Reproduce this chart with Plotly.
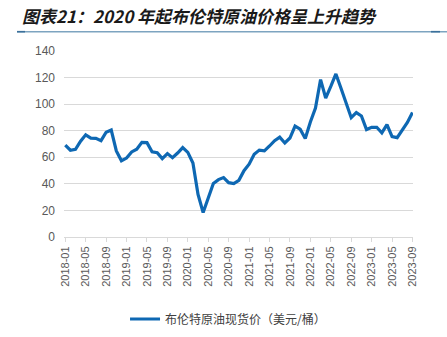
import plotly.graph_objects as go

months = [f"{y}-{m:02d}" for y in range(2018, 2024) for m in range(1, 13)][:69]
brent = [
    69.1, 65.3, 66.0, 72.1, 76.9, 74.4, 74.3, 72.5, 78.9, 80.5, 64.8, 57.4,
    59.4, 64.0, 66.1, 71.2, 71.0, 64.2, 63.5, 59.0, 62.8, 59.7, 63.2, 67.3,
    63.7, 55.7, 32.0, 18.4, 29.4, 40.3, 43.2, 44.7, 40.9, 40.2, 42.7, 49.9,
    54.8, 62.3, 65.4, 64.8, 68.5, 72.5, 75.2, 70.8, 74.5, 83.5, 81.1, 74.2,
    86.5, 97.1, 118.5, 104.6, 113.3, 122.7, 111.9, 100.5, 89.8, 93.6, 91.1, 80.9,
    82.5, 82.6, 78.4, 84.6, 75.5, 74.8, 80.1, 86.2, 93.7,
]
tick_idx = list(range(0, 69, 4))
tick_text = [months[i] for i in tick_idx]
series_name = "布伦特原油现货价（美元/桶）"
title_text = "图表21：2020 年起布伦特原油价格呈上升趋势"

W, H = 447, 337
L, R, T, B = 64, 34, 51, 100
pw, ph = W - L - R, H - T - B

def px_x(x):
    return (x - L) / pw

def px_y(y):
    return (H - B - y) / ph

fig = go.Figure()
fig.add_trace(go.Scatter(
    x=list(range(len(brent))), y=brent, mode="lines", name=series_name,
    line=dict(color="#0e68b3", width=3.2),
))

cjk = "Noto Sans CJK SC, sans-serif"
latin = "Liberation Sans, Arial, sans-serif"
fig.update_layout(
    width=W, height=H,
    margin=dict(l=L, r=R, t=T, b=B, autoexpand=False),
    plot_bgcolor="white", paper_bgcolor="white",
    font=dict(family=latin, color="#595959", size=11),
    showlegend=True,
    legend=dict(orientation="h", x=0.47, xanchor="center", y=px_y(319), yanchor="middle",
                font=dict(size=12, color="#404040", family=cjk), itemwidth=30),
    xaxis=dict(
        range=[-0.25, 68.1], tickmode="array", tickvals=tick_idx, ticktext=tick_text,
        tickangle=-90, showgrid=False, showline=True, linecolor="#d9d9d9", linewidth=1,
        ticks="outside", ticklen=4, tickcolor="#d9d9d9",
        tickfont=dict(size=11, color="#595959", family=latin),
        zeroline=False, automargin=False,
    ),
    yaxis=dict(
        range=[0, 140], tickvals=list(range(0, 141, 20)), showgrid=True,
        gridcolor="#d9d9d9", gridwidth=1, zeroline=False, showline=False,
        tickfont=dict(size=12, color="#595959", family=latin), ticklabelstandoff=8,
        automargin=False,
    ),
    shapes=[
        dict(type="line", xref="paper", yref="paper", x0=px_x(17), x1=px_x(447),
             y0=px_y(31.7), y1=px_y(31.7), line=dict(color="#7da4c0", width=1.6)),
        dict(type="line", xref="paper", yref="paper", x0=px_x(17), x1=px_x(25),
             y0=px_y(31.7), y1=px_y(31.7), line=dict(color="#3b709b", width=1.6)),
        dict(type="line", xref="paper", yref="paper", x0=px_x(431), x1=px_x(440),
             y0=px_y(31.7), y1=px_y(31.7), line=dict(color="#3b709b", width=1.6)),
    ],
    annotations=[
        dict(text=f"<i>{title_text}</i>", xref="paper", yref="paper",
             x=px_x(20), y=px_y(16), xanchor="left", yanchor="middle", showarrow=False,
             font=dict(size=17, color="#1a1a1a", family=cjk, weight=600)),
    ],
)

fig.write_html("out.html")
